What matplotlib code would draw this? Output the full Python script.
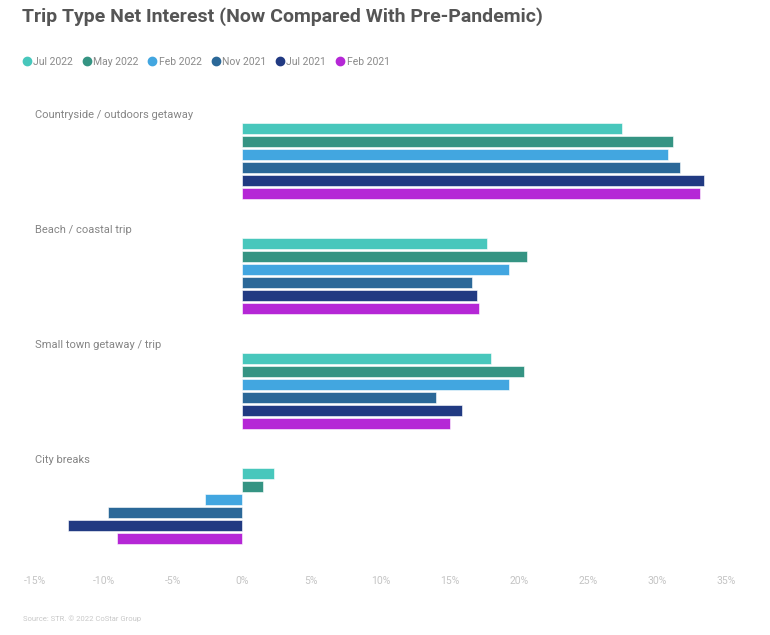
import matplotlib
matplotlib.use("Agg")
import matplotlib.pyplot as plt
import matplotlib.transforms as mtransforms
from matplotlib.lines import Line2D

categories = ["Countryside / outdoors getaway", "Beach / coastal trip",
              "Small town getaway / trip", "City breaks"]
series = ["Jul 2022", "May 2022", "Feb 2022", "Nov 2021", "Jul 2021", "Feb 2021"]
colors = ["#48C7BC", "#359483", "#42A6E0", "#2B6898", "#213A82", "#B527D6"]
# values per series, in category order (%)
jul_2022 = [27.5, 17.7, 18.0, 2.3]
may_2022 = [31.2, 20.6, 20.4, 1.5]
feb_2022 = [30.8, 19.3, 19.3, -2.7]
nov_2021 = [31.7, 16.6, 14.0, -9.7]
jul_2021 = [33.4, 17.0, 15.9, -12.6]
feb_2021 = [33.1, 17.1, 15.0, -9.1]
values = [jul_2022, may_2022, feb_2022, nov_2021, jul_2021, feb_2021]
xticks = [-15, -10, -5, 0, 5, 10, 15, 20, 25, 30, 35]

plt.rcParams['font.family'] = ['Roboto', 'DejaVu Sans']

fig = plt.figure(figsize=(7.7, 6.35), dpi=100)
W, H = 770, 635
ax = fig.add_axes([35 / W, 1 - 565 / H, (726 - 35) / W, (565 - 100) / H])

group_gap = 8.915
for j, (name, col, vals) in enumerate(zip(series, colors, values)):
    ys = [i * group_gap + j for i in range(len(categories))]
    ax.barh(ys, vals, height=0.86, color=col, edgecolor="white", linewidth=0.4)

trans = mtransforms.blended_transform_factory(ax.transAxes, ax.transData)
for i, cat in enumerate(categories):
    ax.text(0, i * group_gap - 1.05, cat, transform=trans, ha="left", va="center",
            fontsize=8, color="#858585")

ax.set_xlim(-15, 35)
ax.set_ylim(33.8, -2.21)
ax.set_xticks(xticks)
ax.set_xticklabels([f"{t}%" for t in xticks], color="#c4c4c4", fontsize=7.5)
ax.tick_params(axis="x", length=0, pad=8)
ax.set_yticks([])
for s in ax.spines.values():
    s.set_visible(False)

fig.text(22 / W, 1 - 17 / H, "Trip Type Net Interest (Now Compared With Pre-Pandemic)",
         fontweight="bold", fontsize=14, color="#555555", va="center", ha="left")

handles = [Line2D([], [], marker="o", linestyle="none", markersize=6,
                  markerfacecolor=c, markeredgecolor=c) for c in colors]
fig.legend(handles, series, loc="center left", bbox_to_anchor=(12 / W, 1 - 62 / H),
           ncol=6, frameon=False, fontsize=7.5, labelcolor="#8a8a8a",
           handletextpad=0.1, columnspacing=0.85, handlelength=1.0)

fig.text(23 / W, 1 - 619 / H, "Source: STR. \u00a9 2022 CoStar Group",
         fontsize=5.5, color="#c8c8c8", va="center", ha="left")

fig.savefig("out.png", dpi=100)
